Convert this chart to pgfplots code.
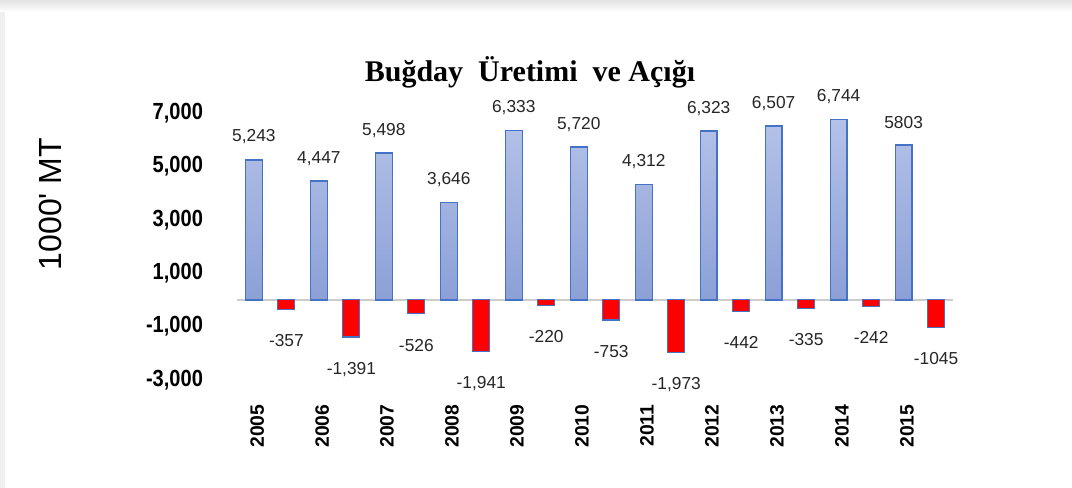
\documentclass[border=0pt]{standalone}
\usepackage{pgfplots}
\pgfplotsset{compat=1.18}
\usepackage{pgfplotstable}
\usepackage{graphicx}
\usepackage{fontspec}
\setmainfont{Liberation Sans}
\newfontfamily\titlefont{Liberation Serif}
\definecolor{barblueT}{RGB}{180,194,232}
\definecolor{barblueB}{RGB}{140,160,215}
\definecolor{baredge}{RGB}{68,114,196}
\newcommand{\yl}[1]{\scalebox{0.86}[1]{#1}}
\pgfplotstableread{
x y lab
0 5243 5,243
1 4447 4,447
2 5498 5,498
3 3646 3,646
4 6333 6,333
5 5720 5,720
6 4312 4,312
7 6323 6,323
8 6507 6,507
9 6744 6,744
10 5803 5803
}\tprod
\pgfplotstableread{
x y lab
0.5 -357 -357
1.5 -1391 -1,391
2.5 -526 -526
3.5 -1941 -1,941
4.5 -220 -220
5.5 -753 -753
6.5 -1973 -1,973
7.5 -442 -442
8.5 -335 -335
9.5 -242 -242
10.5 -1045 -1045
}\tdef
\begin{document}
\begin{tikzpicture}
\useasboundingbox[fill=white] (0,0) rectangle (804pt,366pt);
\fill[gray!12] (0,0) rectangle (4pt,366pt);
\shade[top color=gray!22,bottom color=white] (0,357pt) rectangle (804pt,366pt);
\node[font=\titlefont\bfseries\fontsize{22.5}{26}\selectfont] at (397.5pt,312pt) {Buğday\ \ Üretimi\ \ ve Açığı};
\node[rotate=90, font=\fontsize{24}{28}\selectfont] at (37.5pt,213pt) {1000\textquotesingle{} MT};
\begin{axis}[
  at={(177.75pt,81pt)}, anchor=south west,
  scale only axis, width=537pt, height=200.25pt,
  xmin=-0.26, xmax=10.76, ymin=-3000, ymax=7000,
  axis line style={draw=none},
  major tick style={draw=none},
  xtick={0.05,1.05,2.05,3.05,4.05,5.05,6.05,7.05,8.05,9.05,10.05},
  xticklabels={2005,2006,2007,2008,2009,2010,2011,2012,2013,2014,2015},
  x tick label style={rotate=90, anchor=east, font=\fontsize{14.5}{16}\selectfont\bfseries},
  xticklabel shift=15pt,
  ytick={-3000,-1000,1000,3000,5000,7000},
  yticklabels={{\yl{-3,000}},{\yl{-1,000}},{\yl{1,000}},{\yl{3,000}},{\yl{5,000}},{\yl{7,000}}},
  y tick label style={font=\fontsize{17.5}{20}\selectfont\bfseries},
  yticklabel shift=22pt,
  extra y ticks={0}, extra y tick labels={},
  extra y tick style={grid=major, major grid style={draw=gray!40, line width=1.2pt}},
  clip=false,
]
\addplot[ybar, bar width=0.26, bar shift=0pt, top color=barblueT, bottom color=barblueB, draw=baredge, line width=1pt,
  point meta=explicit symbolic, nodes near coords,
  nodes near coords style={font=\fontsize{13}{15}\selectfont, anchor=south, yshift=8pt, text=black!85}]
  table[x=x, y=y, meta=lab] {\tprod};
\addplot[ybar, bar width=0.26, bar shift=0pt, fill=red, draw=baredge, line width=0.8pt,
  point meta=explicit symbolic, nodes near coords,
  nodes near coords style={font=\fontsize{13}{15}\selectfont, anchor=north, yshift=-15pt, text=black!85}]
  table[x=x, y=y, meta=lab] {\tdef};
\end{axis}
\end{tikzpicture}
\end{document}
